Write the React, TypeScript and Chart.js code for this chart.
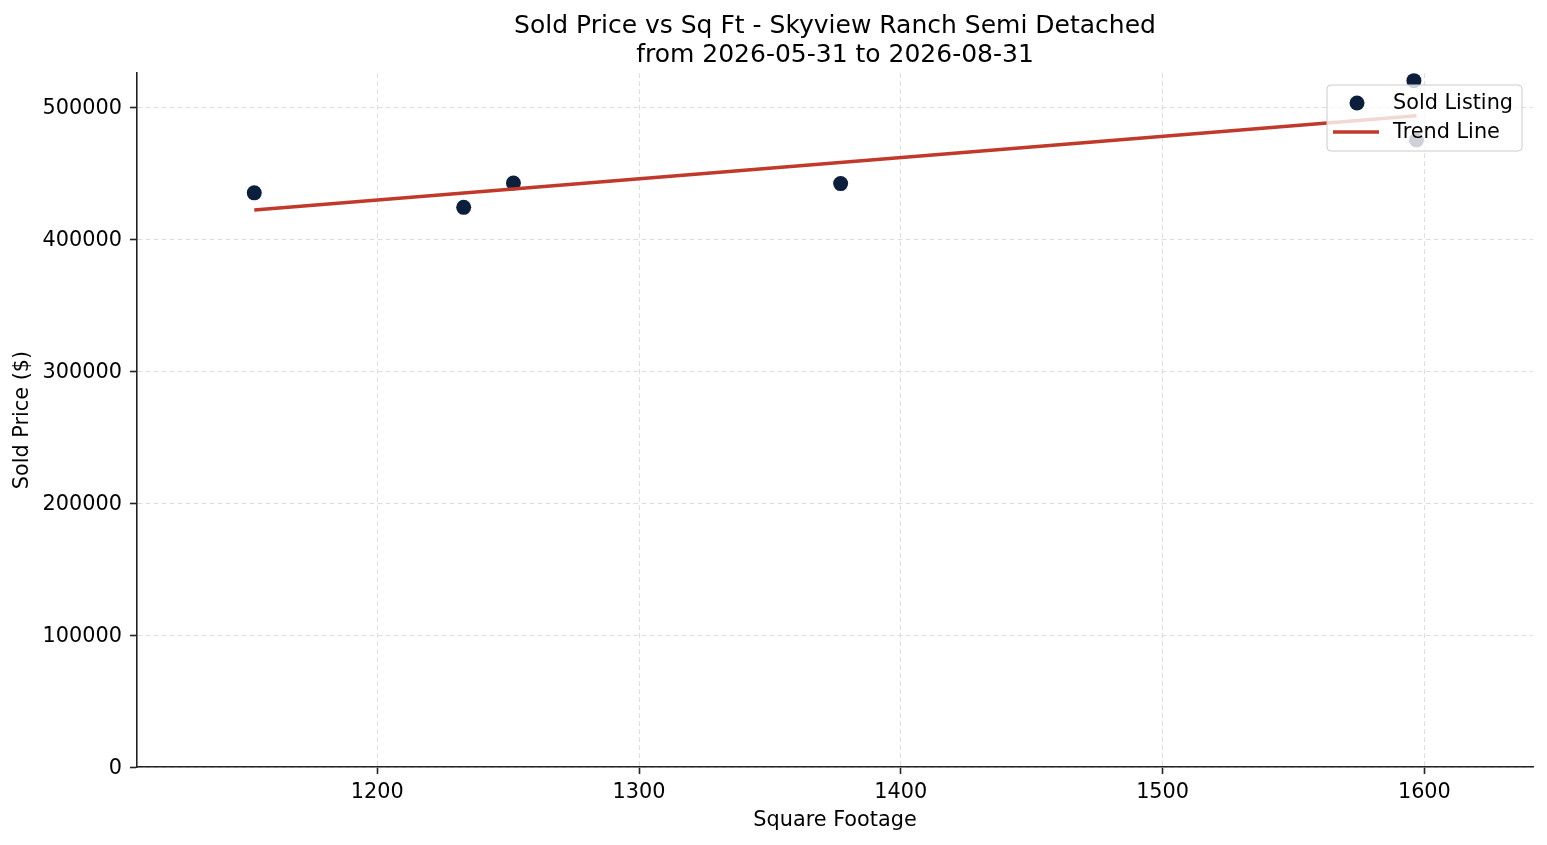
import React, { useEffect, useRef } from 'react';
import { Chart, registerables } from 'chart.js';

Chart.register(...registerables);

const titleLines = ['Sold Price vs Sq Ft - Skyview Ranch Semi Detached', 'from 2026-05-31 to 2026-08-31'];

// listings
const sqft = [1153, 1233, 1252, 1377, 1596, 1597];
const soldPrice = [435000, 424000, 442500, 442000, 520000, 475000];

// trend line end points
const trendSqft = [1153, 1597];
const trendPrice = [422000, 493500];

const xTicks = [1200, 1300, 1400, 1500, 1600];
const yTicks = [0, 100000, 200000, 300000, 400000, 500000];

const FONT = '"DejaVu Sans", sans-serif';
const TEXT_SIZE = 20.8;
const NAVY = '#0b1f3d';
const RED = '#c0392b';
const AXIS = '#222222';

// title centred over the plot area, like matplotlib
const titlePlugin = {
  id: 'plotTitle',
  afterDraw(chart: Chart) {
    const { ctx, chartArea } = chart;
    const cx = (chartArea.left + chartArea.right) / 2;
    ctx.save();
    ctx.font = `25px ${FONT}`;
    ctx.fillStyle = '#000';
    ctx.textAlign = 'center';
    ctx.textBaseline = 'alphabetic';
    titleLines.forEach((line, i) => ctx.fillText(line, cx, 33 + i * 29));
    ctx.restore();
  },
};

// legend box drawn inside the axes, on top of the data
const legendPlugin = {
  id: 'insideLegend',
  afterDatasetsDraw(chart: Chart) {
    const { ctx, chartArea } = chart;
    const w = 195;
    const h = 66;
    const x = chartArea.right - 11 - w;
    const y = chartArea.top + 12;
    ctx.save();
    ctx.beginPath();
    ctx.roundRect(x, y, w, h, 4);
    ctx.fillStyle = 'rgba(255,255,255,0.8)';
    ctx.fill();
    ctx.lineWidth = 1;
    ctx.strokeStyle = '#cccccc';
    ctx.stroke();
    ctx.font = `${TEXT_SIZE}px ${FONT}`;
    ctx.textAlign = 'left';
    ctx.textBaseline = 'middle';
    chart.data.datasets.forEach((ds: any, i: number) => {
      const rowY = y + 18 + i * 29;
      if (ds.showLine) {
        ctx.beginPath();
        ctx.moveTo(x + 6, rowY);
        ctx.lineTo(x + 52, rowY);
        ctx.lineWidth = 3.5;
        ctx.strokeStyle = ds.borderColor;
        ctx.stroke();
      } else {
        ctx.beginPath();
        ctx.arc(x + 30, rowY, 7.5, 0, Math.PI * 2);
        ctx.fillStyle = ds.backgroundColor;
        ctx.fill();
      }
      ctx.fillStyle = '#000';
      ctx.fillText(ds.label, x + 66, rowY + 1);
    });
    ctx.restore();
  },
};

export default function App() {
  const chartRef = useRef<HTMLCanvasElement>(null);
  const chartInstance = useRef<Chart | null>(null);

  useEffect(() => {
    document.body.style.margin = '0';
    if (!chartRef.current) return;
    if (chartInstance.current) chartInstance.current.destroy();
    const ctx = chartRef.current.getContext('2d');
    if (!ctx) return;

    chartInstance.current = new Chart(ctx, {
      type: 'scatter',
      data: {
        datasets: [
          {
            label: 'Sold Listing',
            data: sqft.map((x, i) => ({ x, y: soldPrice[i] })),
            backgroundColor: NAVY,
            borderWidth: 0,
            pointRadius: 7.5,
            order: 1,
          },
          {
            type: 'line',
            label: 'Trend Line',
            data: trendSqft.map((x, i) => ({ x, y: trendPrice[i] })),
            showLine: true,
            borderColor: RED,
            borderWidth: 3.5,
            pointRadius: 0,
            fill: false,
            order: 0,
          } as any,
        ],
      },
      options: {
        animation: false,
        responsive: true,
        maintainAspectRatio: false,
        layout: { padding: { top: 73, right: 14, left: 0, bottom: 0 } },
        plugins: {
          legend: { display: false },
          title: { display: false },
          tooltip: { enabled: false },
        },
        scales: {
          x: {
            type: 'linear',
            min: 1108.2,
            max: 1641.5,
            afterBuildTicks: (scale: any) => {
              scale.ticks = xTicks.map((value) => ({ value }));
            },
            afterFit: (scale: any) => {
              scale.height = 78;
            },
            ticks: {
              font: { family: FONT, size: TEXT_SIZE },
              color: '#000',
              padding: 6,
              maxRotation: 0,
              callback: (v: any) => String(v),
            },
            grid: {
              color: '#dadada',
              lineWidth: 0.9,
              tickLength: 7,
              tickColor: AXIS,
              tickWidth: 1.6,
            },
            border: { display: true, color: AXIS, width: 1.6, dash: [5, 3] },
            title: {
              display: true,
              text: 'Square Footage',
              font: { family: FONT, size: TEXT_SIZE },
              color: '#000',
              padding: { top: 0, bottom: 12 },
            },
          },
          y: {
            type: 'linear',
            min: 0,
            max: 525800,
            afterBuildTicks: (scale: any) => {
              scale.ticks = yTicks.map((value) => ({ value }));
            },
            afterFit: (scale: any) => {
              scale.width = 137;
            },
            ticks: {
              font: { family: FONT, size: TEXT_SIZE },
              color: '#000',
              padding: 8,
              labelOffset: 2,
              callback: (v: any) => String(v),
            },
            grid: {
              color: '#dadada',
              lineWidth: 0.9,
              tickLength: 7,
              tickColor: AXIS,
              tickWidth: 1.6,
            },
            border: { display: true, color: AXIS, width: 1.6, dash: [5, 3] },
            title: {
              display: true,
              text: 'Sold Price ($)',
              font: { family: FONT, size: TEXT_SIZE },
              color: '#000',
              padding: { top: 10.5, bottom: 0 },
            },
          },
        },
      },
      plugins: [titlePlugin, legendPlugin],
    });

    return () => {
      if (chartInstance.current) {
        chartInstance.current.destroy();
        chartInstance.current = null;
      }
    };
  }, []);

  return (
    <div style={{ position: 'relative', width: 1547, height: 845 }}>
      <canvas ref={chartRef} />
    </div>
  );
}
